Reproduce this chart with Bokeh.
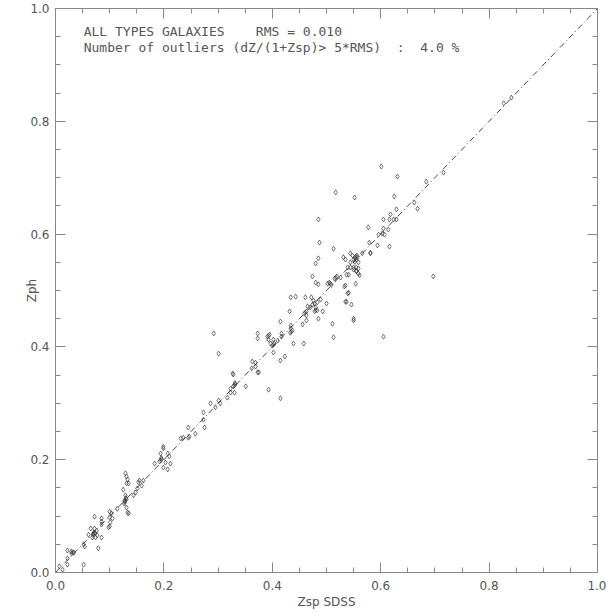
from bokeh.plotting import figure
from bokeh.models import LinearAxis, Range1d, FixedTicker
from bokeh.embed import file_html
from bokeh.resources import INLINE
from bokeh.core.properties import value

pts = [
(.007,.011),(.013,.005),(.022,.014),(.022,.025),(.022,.039),(.030,.034),(.032,.036),(.029,.037),(.034,.035),(.052,.050),(.054,.046),(.052,.014),
(.070,.069),(.071,.071),(.069,.067),(.073,.070),(.065,.078),(.072,.078),(.076,.074),(.061,.067),(.068,.062),(.074,.062),(.077,.066),(.085,.062),(.072,.099),(.079,.043),(.085,.096),(.085,.090),(.085,.085),
(.100,.108),(.103,.105),(.100,.098),(.105,.096),(.101,.089),(.100,.082),(.098,.080),(.114,.113),
(.129,.128),(.131,.130),(.127,.127),(.130,.132),(.128,.125),(.129,.176),(.131,.170),(.133,.165),(.131,.158),(.135,.158),(.125,.147),(.129,.137),(.127,.122),(.131,.115),(.133,.106),(.135,.105),
(.153,.160),(.155,.163),(.159,.154),(.151,.149),(.148,.142),(.144,.137),(.162,.163),
(.194,.199),(.196,.201),(.192,.197),(.195,.203),(.199,.223),(.199,.220),(.194,.211),(.207,.211),(.210,.206),(.203,.195),(.212,.193),(.199,.186),(.207,.183),(.183,.193),
(.231,.238),(.236,.239),(.245,.257),(.258,.246),(.275,.257),(.245,.239),(.247,.241),
(.273,.284),(.273,.271),(.286,.300),(.301,.305),(.304,.300),(.295,.293),(.317,.310),(.292,.424),(.301,.388),
(.323,.326),(.323,.319),(.330,.319),(.330,.332),(.332,.334),(.328,.330),(.331,.336),(.351,.330),(.327,.353),(.328,.351),
(.362,.362),(.369,.365),(.363,.374),(.373,.355),(.375,.355),(.369,.372),(.373,.424),(.373,.415),(.393,.420),(.395,.422),(.391,.418),(.393,.413),(.402,.413),(.410,.411),(.402,.404),(.404,.406),(.400,.402),(.402,.390),(.423,.383),(.415,.376),(.393,.324),(.415,.309),(.397,.406),
(.415,.445),(.417,.424),(.417,.418),(.435,.427),(.437,.429),(.433,.425),(.434,.433),(.434,.438),(.456,.440),(.432,.463),(.439,.406),(.458,.406),
(.443,.489),(.434,.488),(.461,.488),(.472,.488),(.476,.482),(.483,.479),(.489,.484),(.478,.477),(.474,.475),(.470,.470),(.465,.472),(.480,.470),(.483,.465),(.461,.461),(.463,.463),(.459,.459),(.478,.463),(.480,.465),(.493,.463),(.500,.477),(.463,.456),(.463,.447),(.485,.450),(.511,.441),(.513,.417),(.550,.450),(.550,.447),(.605,.418),(.537,.480),(.546,.475),
(.480,.514),(.485,.511),(.474,.525),(.480,.548),(.485,.557),(.507,.512),(.505,.514),(.509,.510),(.502,.512),(.517,.523),(.519,.525),(.515,.521),(.526,.523),(.533,.507),(.535,.509),(.539,.495),(.535,.480),(.541,.496),(.554,.512),(.531,.559),(.535,.555),(.539,.541),(.537,.528),(.541,.528),(.559,.539),(.555,.534),(.561,.527),
(.544,.566),(.554,.560),(.556,.562),(.552,.558),(.548,.562),(.557,.559),(.550,.555),(.555,.555),(.552,.551),(.544,.550),(.559,.550),(.550,.541),(.555,.541),(.544,.541),(.550,.537),(.555,.535),(.559,.530),
(.566,.566),(.581,.566),(.513,.574),(.517,.674),(.552,.665),(.577,.612),(.579,.585),(.581,.567),(.594,.580),(.596,.599),(.603,.601),(.607,.599),(.605,.626),(.605,.610),(.614,.608),(.616,.578),(.616,.626),(.624,.626),(.629,.626),(.618,.635),(.629,.644),(.625,.667),(.662,.656),(.668,.645),(.684,.693),(.716,.709),(.697,.525),(.827,.832),(.841,.842),(.601,.720),(.631,.702),(.485,.626),(.487,.585),
]
zsp = [a for a, b in pts]
zph = [b for a, b in pts]

line_x = [0.0, 1.0]
line_y = [0.0, 1.0]

major_ticks = [0.0, 0.2, 0.4, 0.6, 0.8, 1.0]
minor_ticks = [i * 0.05 for i in range(21)]

NB = "\u00a0"
title1 = "ALL TYPES GALAXIES" + NB * 4 + "RMS = 0.010"
title2 = "Number of outliers (dZ/(1+Zsp)> 5*RMS)" + NB * 2 + ":" + NB * 2 + "4.0 %"

FONT = "DejaVu Sans"
GREY = "#555555"

p = figure(frame_width=542, frame_height=564, x_range=Range1d(0, 1), y_range=Range1d(0, 1),
           output_backend="svg", toolbar_location=None,
           min_border_left=55, min_border_right=9, min_border_top=8, min_border_bottom=42)
p.grid.visible = False
p.outline_line_color = "#888888"
p.background_fill_color = "white"
p.border_fill_color = "white"

p.xaxis.axis_label = "Zsp SDSS"
p.yaxis.axis_label = "Zph"

def style(ax, labels=True):
    ax.ticker = FixedTicker(ticks=major_ticks, minor_ticks=minor_ticks)
    ax.major_tick_in = 10
    ax.major_tick_out = 0
    ax.minor_tick_in = 5
    ax.minor_tick_out = 0
    ax.axis_line_color = "#888888"
    ax.major_tick_line_color = "#888888"
    ax.minor_tick_line_color = "#888888"
    ax.major_label_text_font = FONT
    ax.major_label_text_font_size = "12px"
    ax.major_label_text_color = GREY
    ax.axis_label_text_font = FONT
    ax.axis_label_text_font_size = "12px"
    ax.axis_label_text_font_style = "normal"
    ax.axis_label_text_color = GREY
    if labels:
        ax.major_label_overrides = {t: f"{t:.1f}" for t in major_ticks}
    else:
        ax.major_label_overrides = {t: "" for t in major_ticks}
        ax.major_label_standoff = 0

for ax in p.xaxis + p.yaxis:
    style(ax)
p.xaxis.major_label_standoff = 8
p.xaxis.axis_label_standoff = 2
p.yaxis.major_label_standoff = 6
p.yaxis.axis_label_standoff = -12

top = LinearAxis()
right = LinearAxis()
style(top, False)
style(right, False)
p.add_layout(top, "above")
p.add_layout(right, "right")

p.line(line_x, line_y, line_color="#444444", line_width=1, line_dash="6 3 1 3")
p.scatter(zsp, zph, marker="diamond", size=5, fill_color=None, line_color="#333333", line_width=0.7)

p.text(x=[0.052, 0.052], y=[0.959, 0.931], text=[title1, title2],
       text_font=value("DejaVu Sans Mono"), text_font_size="13px", text_color=GREY,
       text_baseline="middle", text_align="left")

open("out.html", "w").write(file_html(p, INLINE))
